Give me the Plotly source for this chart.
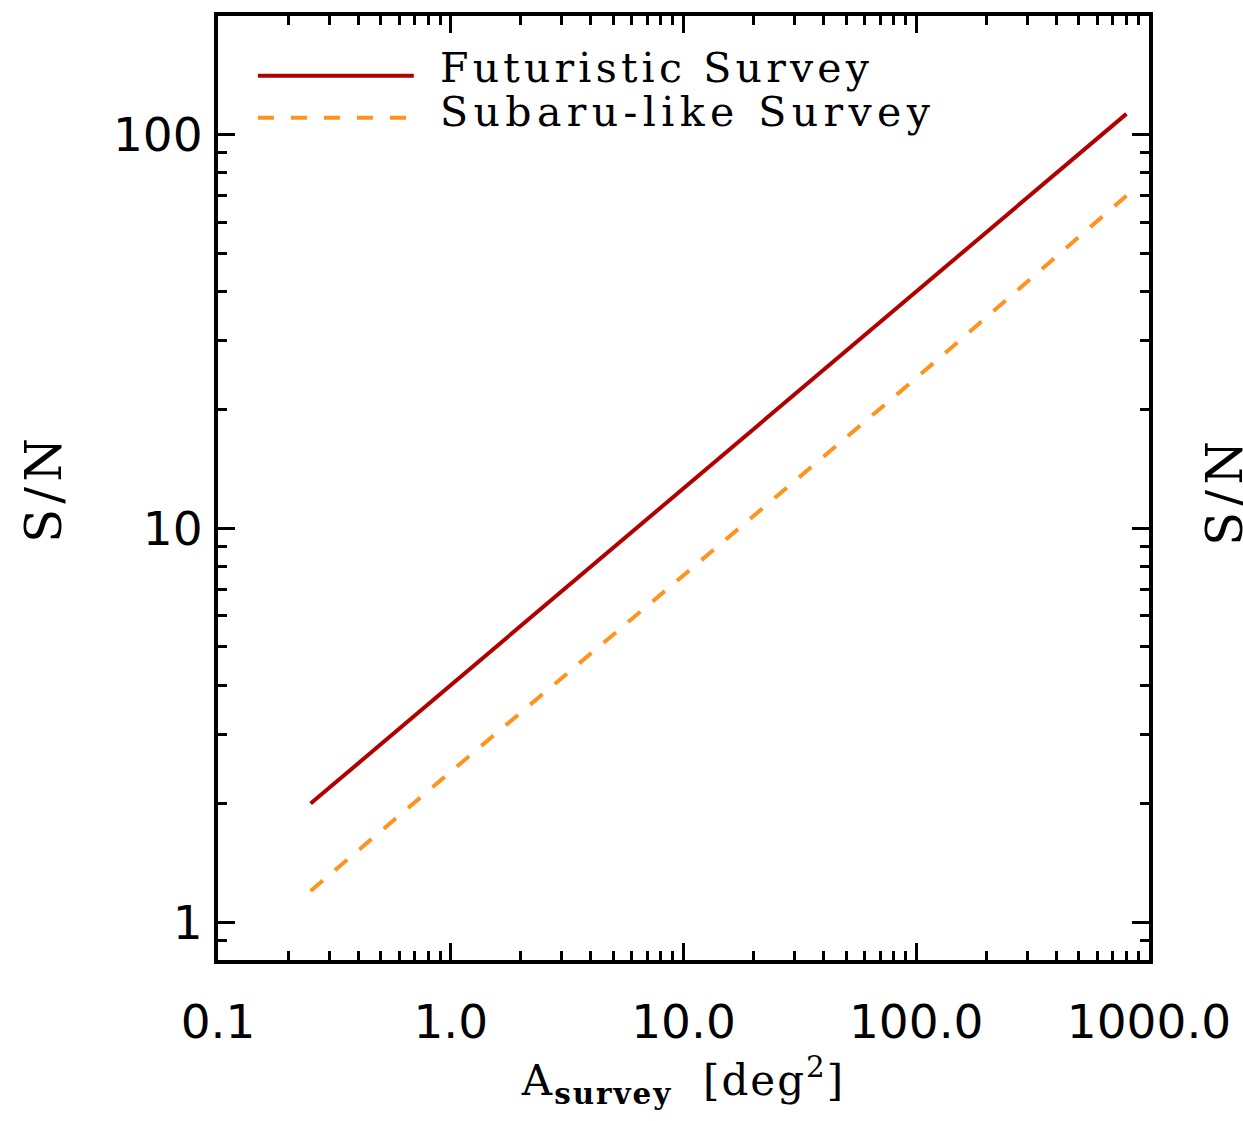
import plotly.graph_objects as go

# Data
area_fut = [0.25, 1.0, 10.0, 100.0, 800.0]
sn_fut = [2.0, 4.0, 12.7, 40.0, 113.0]
area_sub = [0.25, 1.0, 10.0, 100.0, 800.0]
sn_sub = [1.2, 2.41, 7.6, 24.1, 70.0]

x_tickvals = [0.1, 1, 10, 100, 1000]
x_ticktext = ["0.1", "1.0", "10.0", "100.0", "1000.0"]
y_tickvals = [1, 10, 100]
y_ticktext = ["1", "10", "100"]

series_names = ["Futuristic Survey", "Subaru-like Survey"]
red = "#B00000"
orange = "#FF9320"
serif = "DejaVu Serif"


def spaced(text, px):
    return '<span style="letter-spacing:%.1fpx">%s</span>' % (px, text)


fig = go.Figure()
fig.add_trace(go.Scatter(x=area_fut, y=sn_fut, mode="lines", name=series_names[0],
                         line=dict(color=red, width=4), showlegend=False))
fig.add_trace(go.Scatter(x=area_sub, y=sn_sub, mode="lines", name=series_names[1],
                         line=dict(color=orange, width=4, dash="16px,16px"), showlegend=False))

tick_font = dict(family="DejaVu Sans", size=47, color="black")
axis_common = dict(
    type="log", showgrid=False, zeroline=False, showline=True, linecolor="black",
    linewidth=4, mirror="allticks", ticks="inside", ticklen=17, tickwidth=3,
    tickcolor="black", tickfont=tick_font,
    minor=dict(ticks="inside", ticklen=9, tickwidth=3, tickcolor="black", dtick="D1", showgrid=False),
)

fig.update_xaxes(**axis_common, range=[-1, 3], tickvals=x_tickvals, ticktext=x_ticktext,
                 ticklabelstandoff=18,
                 title=dict(text=spaced("A<sub><b>survey</b></sub>&nbsp;&nbsp;[deg<sup>2</sup>]", 2),
                            font=dict(family=serif, size=42, color="black"), standoff=18))
fig.update_yaxes(**axis_common, range=[-0.0963, 2.3017], tickvals=y_tickvals, ticktext=y_ticktext,
                 ticklabelstandoff=2,
                 title=dict(text=spaced("S/N", 5), font=dict(family=serif, size=50, color="black"),
                            standoff=36))

# Legend drawn manually to match the long line samples
fig.add_shape(type="line", xref="paper", yref="paper", x0=(258-218)/932, x1=(414-218)/932,
              y0=(960-74)/946, y1=(960-74)/946, line=dict(color=red, width=4))
fig.add_shape(type="line", xref="paper", yref="paper", x0=(258-218)/932, x1=(414-218)/932,
              y0=(960-116)/946, y1=(960-116)/946, line=dict(color=orange, width=4, dash="16px,17px"))
fig.add_annotation(xref="paper", yref="paper", x=(438-218)/932, y=(960-66)/946, xanchor="left",
                   yanchor="middle", text=spaced(series_names[0], 4.2), showarrow=False,
                   font=dict(family=serif, size=41, color="black"))
fig.add_annotation(xref="paper", yref="paper", x=(438-218)/932, y=(960-110)/946, xanchor="left",
                   yanchor="middle", text=spaced(series_names[1], 5.4), showarrow=False,
                   font=dict(family=serif, size=41, color="black"))
# Neighbouring panel's y title, cut off at right edge
fig.add_annotation(xref="paper", yref="paper", x=(1226-218)/932, y=(960-490)/946, xanchor="center",
                   yanchor="middle", text=spaced("S/N", 5), textangle=-90, showarrow=False,
                   font=dict(family=serif, size=50, color="black"))

fig.update_layout(width=1243, height=1121, margin=dict(l=218, r=93, t=14, b=161),
                  paper_bgcolor="white", plot_bgcolor="white")

fig.write_html("out.html")
